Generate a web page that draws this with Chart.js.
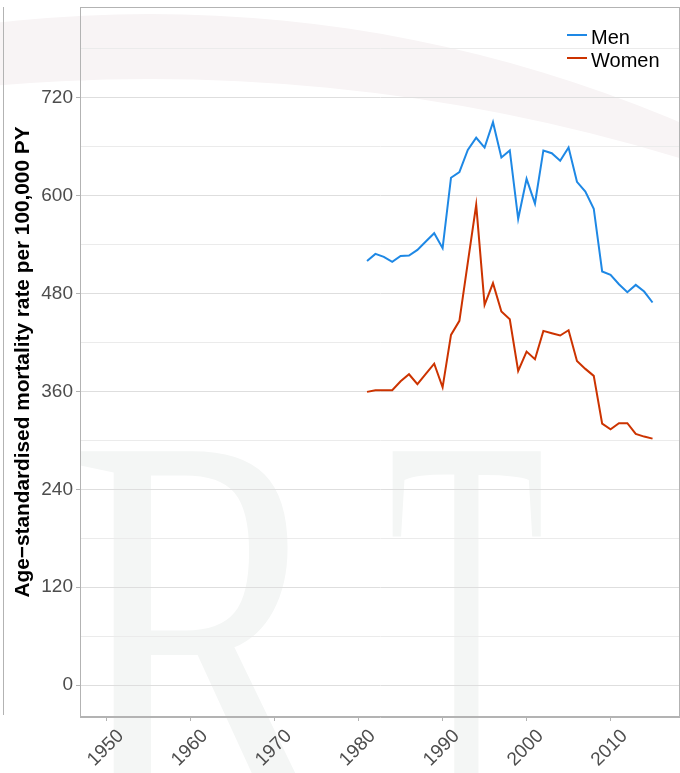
<!DOCTYPE html>
<html>
<head>
<meta charset="utf-8">
<script src="https://cdn.jsdelivr.net/npm/chart.js@4.4.1/dist/chart.umd.min.js"></script>
<style>
    html, body { margin: 0; padding: 0; background: #fff; }
    #chart { display: block; }
</style>
</head>
<body>
<canvas id="chart" width="680" height="773"></canvas>
<script>
var years = [1981, 1982, 1983, 1984, 1985, 1986, 1987, 1988, 1989, 1990,
    1991, 1992, 1993, 1994, 1995, 1996, 1997, 1998, 1999, 2000,
    2001, 2002, 2003, 2004, 2005, 2006, 2007, 2008, 2009, 2010,
    2011, 2012, 2013, 2014, 2015];
var men = [520, 528.6, 525, 518.8, 526, 526.6, 533.5, 543.8, 554, 535.6,
    622, 628.8, 656, 671, 659, 690, 646.8, 655.4, 571.6, 620.6,
    590.4, 655.4, 652, 642.7, 659, 617, 605, 584, 507, 503,
    491.4, 481.6, 490.6, 482.4, 469];
var women = [359.4, 361.4, 361.4, 361.4, 372.5, 381, 368.8, 381.4, 394, 365,
    429.3, 446.5, 518, 588.7, 466, 492.7, 458, 448.5, 385, 408.8,
    399.4, 434.2, 431.3, 428.5, 435, 397.4, 387.6, 379, 320.5, 313.6,
    321, 321, 307.8, 304.6, 302.1];
var seriesNames = ['Men', 'Women'];
var xTicks = [1950, 1960, 1970, 1980, 1990, 2000, 2010];
var yTicks = [0, 60, 120, 180, 240, 300, 360, 420, 480, 540, 600, 660, 720, 780];
var yTitle = 'Age\u2212standardised mortality rate per 100,000 PY';

var FONT = '"Liberation Sans", Arial, sans-serif';
var axisGrey = '#b3b3b3';

var toPoints = function (vals) {
    return years.map(function (y, i) { return {x: y, y: vals[i]}; });
};

// faint watermark behind the plot (pink arc + big serif letters)
var watermark = {
    id: 'watermark',
    beforeDraw: function (chart) {
        var ctx = chart.ctx;
        ctx.save();
        ctx.beginPath();
        ctx.rect(0, 0, chart.width, chart.height);
        ctx.arc(150, 1891, 1812, 0, Math.PI * 2);
        ctx.clip('evenodd');
        ctx.beginPath();
        ctx.arc(150, 1364, 1350, 0, Math.PI * 2);
        ctx.fillStyle = '#f8f4f5';
        ctx.fill();
        ctx.restore();

        ctx.save();
        ctx.fillStyle = '#f4f6f5';
        ctx.font = '554px "Liberation Serif", serif';
        ctx.textBaseline = 'alphabetic';
        ctx.save();
        ctx.translate(69, 814);
        ctx.scale(0.715, 1);
        ctx.fillText('R', 0, 0);
        ctx.restore();
        ctx.save();
        ctx.translate(388, 814);
        ctx.scale(0.464, 1);
        ctx.fillText('T', 0, 0);
        ctx.restore();
        // edge of the neighbouring panel
        ctx.strokeStyle = axisGrey;
        ctx.lineWidth = 1;
        ctx.beginPath();
        ctx.moveTo(3.5, 7);
        ctx.lineTo(3.5, 715);
        ctx.stroke();
        ctx.restore();
    }
};

// panel border + legend
var panel = {
    id: 'panel',
    afterDraw: function (chart) {
        var ctx = chart.ctx, a = chart.chartArea;
        ctx.save();
        ctx.strokeStyle = axisGrey;
        ctx.lineWidth = 1;
        ctx.strokeRect(a.left + 0.5, a.top + 0.5, a.right - a.left - 1, a.bottom - a.top - 1);

        ctx.font = '20px ' + FONT;
        ctx.textBaseline = 'alphabetic';
        ctx.textAlign = 'left';
        chart.data.datasets.forEach(function (ds, i) {
            var y = 35 + i * 23;
            ctx.strokeStyle = ds.borderColor;
            ctx.lineWidth = 2;
            ctx.beginPath();
            ctx.moveTo(567, y);
            ctx.lineTo(587, y);
            ctx.stroke();
            ctx.fillStyle = '#000';
            ctx.fillText(ds.label, 591, y + 8.5);
        });
        ctx.restore();
    }
};

var ctx = document.getElementById('chart');

var myChart = new Chart(ctx, {
    type: 'line',
    data: {
        datasets: [
            {
                label: seriesNames[0],
                data: toPoints(men),
                borderColor: '#1e88e5',
                borderWidth: 2,
                pointRadius: 0,
                fill: false,
                tension: 0
            },
            {
                label: seriesNames[1],
                data: toPoints(women),
                borderColor: '#cc3300',
                borderWidth: 2,
                pointRadius: 0,
                fill: false,
                tension: 0
            }
        ]
    },
    options: {
        responsive: false,
        animation: false,
        devicePixelRatio: 1,
        layout: {padding: {top: 7, right: 0, bottom: 0, left: 0}},
        plugins: {
            legend: {display: false},
            tooltip: {enabled: false}
        },
        scales: {
            x: {
                type: 'linear',
                min: 1946.82,
                max: 2018.27,
                afterBuildTicks: function (s) {
                    s.ticks = xTicks.map(function (v) { return {value: v}; });
                },
                afterFit: function (s) {
                    s.height = 56;
                    s.paddingLeft = 0;
                    s.paddingRight = 0;
                },
                grid: {
                    display: true,
                    drawOnChartArea: false,
                    drawTicks: true,
                    tickLength: 4,
                    tickColor: axisGrey
                },
                border: {display: true, color: axisGrey, width: 1},
                ticks: {
                    autoSkip: false,
                    minRotation: 45,
                    maxRotation: 45,
                    labelOffset: 14,
                    padding: 4,
                    color: '#4d4d4d',
                    font: {family: FONT, size: 19},
                    callback: function (v) { return String(v); }
                }
            },
            y: {
                type: 'linear',
                min: -39.2,
                max: 831.3,
                afterBuildTicks: function (s) {
                    s.ticks = yTicks.map(function (v) { return {value: v}; });
                },
                afterFit: function (s) {
                    s.width = 80;
                    s.paddingTop = 0;
                    s.paddingBottom = 0;
                },
                grid: {
                    color: function (c) { return c.tick && c.tick.value % 120 === 0 ? '#dedede' : '#ebebeb'; },
                    tickColor: function (c) { return c.tick && c.tick.value % 120 === 0 ? axisGrey : 'rgba(0,0,0,0)'; },
                    tickLength: 4,
                    lineWidth: 1
                },
                border: {display: true, color: axisGrey, width: 1},
                ticks: {
                    autoSkip: false,
                    padding: 3,
                    color: '#4d4d4d',
                    font: {family: FONT, size: 19},
                    callback: function (v) { return v % 120 === 0 ? String(v) : ''; }
                },
                title: {
                    display: true,
                    text: yTitle,
                    color: '#000',
                    font: {family: FONT, size: 20.8, weight: 'bold'},
                    padding: {top: 11, bottom: 0}
                }
            }
        }
    },
    plugins: [watermark, panel]
});
</script>
</body>
</html>
